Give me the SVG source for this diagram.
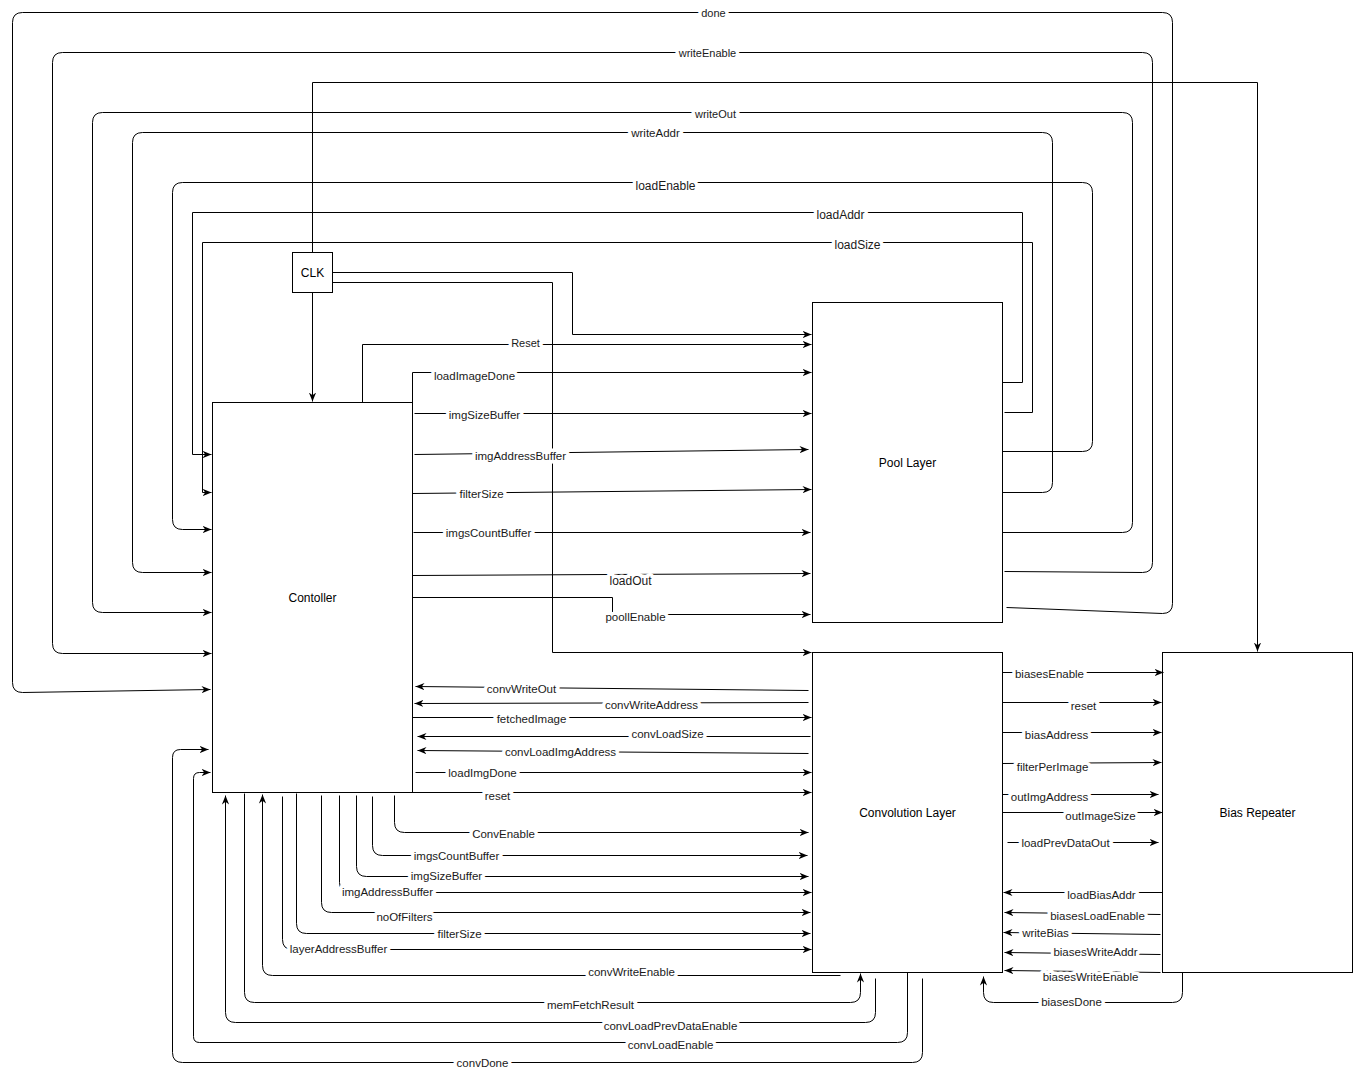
<svg xmlns="http://www.w3.org/2000/svg" width="1358" height="1076" viewBox="0 0 1358 1076">
<style>
.n{fill:#fff;stroke:#000;stroke-width:1}
.e{fill:none;stroke:#000;stroke-width:1}
.a{marker-end:url(#arr)}
.t{font-family:"Liberation Sans",Arial,sans-serif;font-size:12px;fill:#000;text-anchor:middle;dominant-baseline:central}
.l{font-family:"Liberation Sans",Arial,sans-serif;font-size:11.5px;fill:#1a1a1a;text-anchor:middle;dominant-baseline:central;paint-order:stroke;stroke:#fff;stroke-width:7px;stroke-linejoin:round}
.s{font-size:11px}
.b{font-size:12px}
</style>
<defs>
<marker id="arr" viewBox="0 0 10 10" refX="10" refY="5" markerWidth="9" markerHeight="9" markerUnits="userSpaceOnUse" orient="auto"><path d="M0,1 L10,5 L0,9 L3,5 Z" fill="#000"/></marker>
</defs>
<rect width="1358" height="1076" fill="#fff"/>
<g transform="translate(0.5,0.5)">
<g id="clk"><rect class="n" x="292" y="252" width="40" height="40"/><text class="t" x="312" y="272">CLK</text></g>
<g id="controller"><rect class="n" x="212" y="402" width="200" height="390"/><text class="t" x="312" y="597">Contoller</text></g>
<g id="pool"><rect class="n" x="812" y="302" width="190" height="320"/><text class="t" x="907" y="462">Pool Layer</text></g>
<g id="conv"><rect class="n" x="812" y="652" width="190" height="320"/><text class="t" x="907" y="812">Convolution Layer</text></g>
<g id="bias"><rect class="n" x="1162" y="652" width="190" height="320"/><text class="t" x="1257" y="812">Bias Repeater</text></g>
<g id="connectors">
<path class="e a" d="M1006,607 L1162,613 Q1172,613 1172,603 V22 Q1172,12 1162,12 H22 Q12,12 12,22 V682 Q12,692 22,692 L210,689"/>
<path class="e a" d="M1004,571 L1142,572 Q1152,572 1152,562 V62 Q1152,52 1142,52 H62 Q52,52 52,62 V643 Q52,653 62,653 H211"/>
<path class="e a" d="M1002,532 H1122 Q1132,532 1132,522 V122 Q1132,112 1122,112 H102 Q92,112 92,122 V602 Q92,612 102,612 H211"/>
<path class="e a" d="M1002,492 H1042 Q1052,492 1052,482 V142 Q1052,132 1042,132 H142 Q132,132 132,142 V562 Q132,572 142,572 H211"/>
<path class="e a" d="M1002,451 H1082 Q1092,451 1092,441 V192 Q1092,182 1082,182 H182 Q172,182 172,192 V519 Q172,529 182,529 H211"/>
<path class="e a" d="M1002,382 H1022 V212 H192 V454 H211"/>
<path class="e a" d="M1004,412 H1032 V242 H202 V492 H211"/>
<path class="e a" d="M312,252 V82 H1257 V651"/>
<path class="e a" d="M312,292 V401"/>
<path class="e a" d="M332,272 H572 V334 H811"/>
<path class="e a" d="M332,282 H552 V652 H811"/>
<path class="e a" d="M362,402 V344 H811"/>
<path class="e a" d="M412,402 V372 H811"/>
<path class="e a" d="M414,413 H811"/>
<path class="e a" d="M414,454 L808,449"/>
<path class="e a" d="M412,493 L811,489"/>
<path class="e a" d="M413,532 H810"/>
<path class="e a" d="M412,575 L810,573"/>
<path class="e a" d="M412,597 H612 V614 H810"/>
<path class="e a" d="M808,690 L415,686"/>
<path class="e a" d="M808,702 L414,703"/>
<path class="e a" d="M412,717 H811"/>
<path class="e a" d="M810,736 H417"/>
<path class="e a" d="M808,753 L417,750"/>
<path class="e a" d="M415,772 H811"/>
<path class="e a" d="M412,792 H811"/>
<path class="e a" d="M394,795 V822 Q394,832 404,832 H808"/>
<path class="e a" d="M372,796 V845 Q372,855 382,855 H807"/>
<path class="e a" d="M356,795 V866 Q356,876 366,876 H808"/>
<path class="e a" d="M339,795 V882 Q339,892 349,892 H811"/>
<path class="e a" d="M321,795 V902 Q321,912 331,912 H810"/>
<path class="e a" d="M296,793 V923 Q296,933 306,933 H810"/>
<path class="e a" d="M282,796 V939 Q282,949 292,949 H811"/>
<path class="e a" d="M840,975 H272 Q262,975 262,965 V794"/>
<path class="e a" d="M244,793 V992 Q244,1002 254,1002 H850 Q860,1002 860,992 V973"/>
<path class="e a" d="M875,978 V1012 Q875,1022 865,1022 H235 Q225,1022 225,1012 V795"/>
<path class="e a" d="M907,972 V1032 Q907,1042 897,1042 H199 Q193,1042 193,1036 V778 Q193,772 199,772 H210"/>
<path class="e a" d="M922,978 V1052 Q922,1062 912,1062 H182 Q172,1062 172,1052 V757 Q172,749 180,749 H208"/>
<path class="e a" d="M1002,672 H1163"/>
<path class="e a" d="M1002,702 H1161"/>
<path class="e a" d="M1002,732 H1161"/>
<path class="e a" d="M1002,763 L1161,762"/>
<path class="e a" d="M1002,794 H1158"/>
<path class="e a" d="M1002,812 H1162"/>
<path class="e a" d="M1007,842 H1158"/>
<path class="e a" d="M1162,892 H1003"/>
<path class="e a" d="M1160,914 L1004,912"/>
<path class="e a" d="M1160,934 L1003,932"/>
<path class="e a" d="M1160,954 L1004,952"/>
<path class="e a" d="M1160,972 L1004,970"/>
<path class="e a" d="M1182,972 V992 Q1182,1002 1172,1002 H993 Q983,1002 983,992 V976"/>
<text class="l s" x="713" y="12">done</text>
<text class="l s" x="707" y="52">writeEnable</text>
<text class="l s" x="715" y="113">writeOut</text>
<text class="l" x="655" y="132">writeAddr</text>
<text class="l b" x="665" y="185">loadEnable</text>
<text class="l b" x="840" y="214">loadAddr</text>
<text class="l b" x="857" y="244">loadSize</text>
<text class="l s" x="525" y="342">Reset</text>
<text class="l" x="474" y="375">loadImageDone</text>
<text class="l" x="484" y="414">imgSizeBuffer</text>
<text class="l" x="520" y="455">imgAddressBuffer</text>
<text class="l" x="481" y="493">filterSize</text>
<text class="l" x="488" y="532">imgsCountBuffer</text>
<text class="l b" x="630" y="580">loadOut</text>
<text class="l" x="635" y="616">poollEnable</text>
<text class="l" x="521" y="688">convWriteOut</text>
<text class="l" x="651" y="704">convWriteAddress</text>
<text class="l" x="531" y="718">fetchedImage</text>
<text class="l" x="667" y="733">convLoadSize</text>
<text class="l" x="560" y="751">convLoadImgAddress</text>
<text class="l" x="482" y="772">loadImgDone</text>
<text class="l" x="497" y="795">reset</text>
<text class="l" x="503" y="833">ConvEnable</text>
<text class="l" x="456" y="855">imgsCountBuffer</text>
<text class="l" x="446" y="875">imgSizeBuffer</text>
<text class="l" x="387" y="891">imgAddressBuffer</text>
<text class="l" x="404" y="916">noOfFilters</text>
<text class="l" x="459" y="933">filterSize</text>
<text class="l" x="338" y="948">layerAddressBuffer</text>
<text class="l" x="631" y="971">convWriteEnable</text>
<text class="l" x="590" y="1004">memFetchResult</text>
<text class="l" x="670" y="1025">convLoadPrevDataEnable</text>
<text class="l" x="670" y="1044">convLoadEnable</text>
<text class="l" x="482" y="1062">convDone</text>
<text class="l" x="1049" y="673">biasesEnable</text>
<text class="l" x="1083" y="705">reset</text>
<text class="l" x="1056" y="734">biasAddress</text>
<text class="l" x="1052" y="766">filterPerImage</text>
<text class="l" x="1049" y="796">outImgAddress</text>
<text class="l" x="1100" y="815">outImageSize</text>
<text class="l" x="1065" y="842">loadPrevDataOut</text>
<text class="l" x="1101" y="894">loadBiasAddr</text>
<text class="l" x="1097" y="915">biasesLoadEnable</text>
<text class="l" x="1045" y="932">writeBias</text>
<text class="l" x="1095" y="951">biasesWriteAddr</text>
<text class="l" x="1090" y="976">biasesWriteEnable</text>
<text class="l" x="1071" y="1001">biasesDone</text>
</g>
</g>
</svg>
